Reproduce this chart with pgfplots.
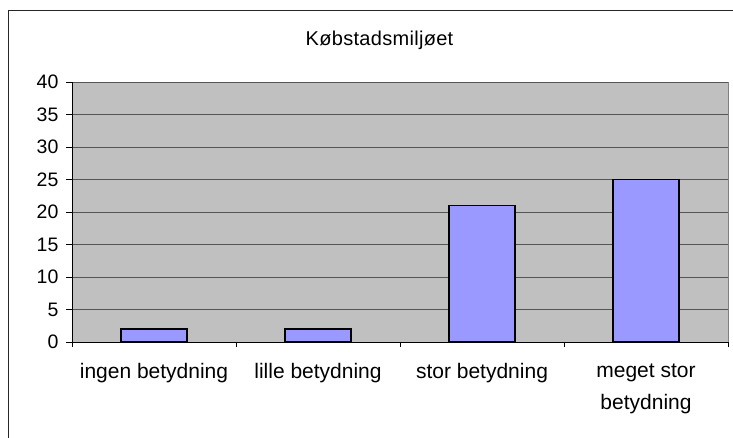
\documentclass[border=0pt]{standalone}
\usepackage{fontspec}
\setmainfont{Liberation Sans}
\usepackage{pgfplots}
\pgfplotsset{compat=1.18}
\definecolor{plotbg}{HTML}{C0C0C0}
\definecolor{barfill}{HTML}{9999FF}
\definecolor{gridc}{HTML}{555555}
\definecolor{framec}{HTML}{808080}
\begin{document}
\begin{tikzpicture}
\useasboundingbox (0pt,0pt) rectangle (733pt,437pt);
\clip (0pt,0pt) rectangle (733pt,437pt);
\fill[white] (0pt,0pt) rectangle (733pt,437pt);
\draw[line width=1pt, black!85] (8pt,-5pt) rectangle (745pt,426pt);
\node[font=\fontsize{20}{22}\selectfont\addfontfeature{LetterSpace=1.5}, anchor=base, inner sep=0pt] at (379.5pt,391.3pt) {Købstadsmiljøet};
\begin{axis}[at={(72pt,95pt)}, anchor=south west, scale only axis,
  width=656pt, height=260pt,
  xmin=-0.5, xmax=3.5, ymin=0, ymax=40,
  ytick={0,5,...,40},
  xtick={0,1,2,3},
  xticklabels={ingen betydning, lille betydning, stor betydning, {meget stor\\betydning}},
  minor xtick={-0.5,0.5,1.5,2.5,3.5},
  tick align=outside, tick pos=left,
  major tick length=6pt, minor tick length=5pt,
  major x tick style={draw=none},
  minor x tick style={black, line width=0.8pt},
  y tick style={black, line width=0.8pt},
  ymajorgrids, major grid style={gridc, line width=0.8pt},
  axis line style={draw=none},
  axis background/.style={fill=plotbg, draw=framec, line width=1pt},
  /pgf/number format/assume math mode=true,
  xticklabel style={font=\fontsize{21}{32}\selectfont, align=center, yshift=-12pt},
  yticklabel style={font=\fontsize{19.5}{22}\selectfont\addfontfeature{LetterSpace=1}, xshift=-4pt},
  clip=false,
]
\addplot[ybar, bar width=0.4, fill=barfill, draw=black, line width=1.6pt]
  coordinates {(0,2) (1,2) (2,21) (3,25)};
\draw[black, line width=1pt] (rel axis cs:0,1) -- (rel axis cs:0,0) -- (rel axis cs:1,0);
\end{axis}
\end{tikzpicture}
\end{document}
